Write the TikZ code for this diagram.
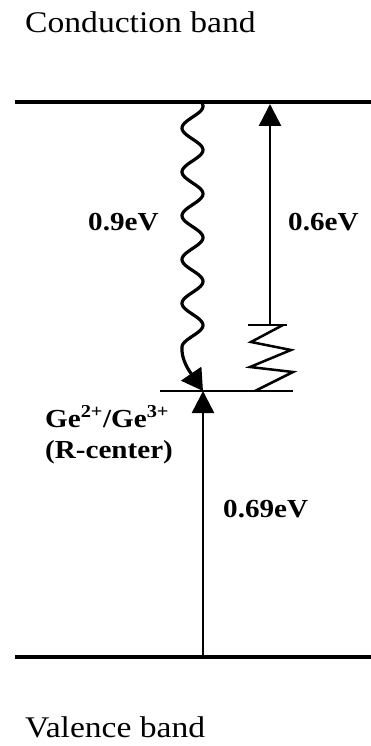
\documentclass[tikz,border=0pt]{standalone}
\usepackage{fontspec}
\setmainfont{Liberation Serif}[FakeStretch=1.12]
\usetikzlibrary{arrows.meta}
\begin{document}
\begin{tikzpicture}[x=1pt,y=-1pt,
  band/.style={line width=4.5pt},
  lvl/.style={line width=2.8pt},
  thin/.style={line width=2.5pt},
  arr/.style={line width=2.5pt,-{Triangle[length=22pt,width=22pt]}},
  wave/.style={line width=3.2pt,line join=round,-{Triangle[length=21pt,width=24pt]}},
  lbl/.style={inner sep=0pt,anchor=base west,font=\fontsize{30}{36}\selectfont},
  blbl/.style={inner sep=0pt,anchor=base west,font=\bfseries\fontsize{26}{30}\selectfont}]
\useasboundingbox (0,0) rectangle (371,746);
% coordinates
\coordinate (cbL) at (15,102);
\coordinate (cbR) at (371,102);
\coordinate (vbL) at (15,657);
\coordinate (vbR) at (371,657);
\coordinate (rcL) at (160,391);
\coordinate (rcR) at (293,391);
\coordinate (rcTip) at (203,391);
\coordinate (vbFoot) at (203,657);
\coordinate (cbTip) at (270,104);
\coordinate (zzTop) at (270,325);
\coordinate (zzL) at (248,325);
\coordinate (zzR) at (287,325);
% bands
\draw[band] (cbL) -- (cbR);
\draw[band] (vbL) -- (vbR);
\draw[lvl] (rcL) -- (rcR);
% labels
\node[lbl] (cb) at (25,33) {Conduction band};
\node[lbl] (vb) at (25,737) {Valence band};
\node[blbl] (e09) at (88,230) {0.9eV};
\node[blbl] (e06) at (288,230) {0.6eV};
\node[blbl] (e069) at (223,517) {0.69eV};
\node[blbl] (ge) at (45,427) {Ge\textsuperscript{2+}/Ge\textsuperscript{3+}};
\node[blbl] (rc) at (45,458) {(R-center)};
% wavy relaxation
\draw[wave] plot[domain=102:347,samples=150,smooth,variable=\t]
  ({192.5+10.5*cos(8.219178*(\t-150))},\t) .. controls (181,360) and (190,372) .. (rcTip);
% excitation from valence band
\draw[arr] (vbFoot) -- (rcTip);
% excitation from zigzag to conduction band
\draw[arr] (zzTop) -- (cbTip);
\draw[thin] (zzL) -- (zzR);
\draw[thin,line join=miter] (283,325) -- (251,342) -- (291,350) -- (250,367) -- (293,372) -- (255,391);
\end{tikzpicture}
\end{document}
